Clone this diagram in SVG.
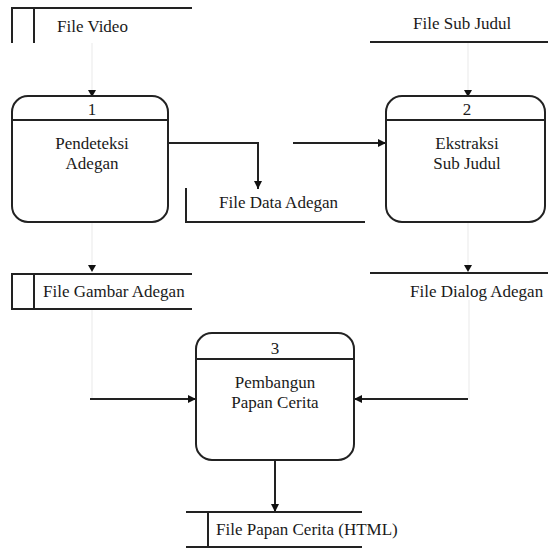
<svg xmlns="http://www.w3.org/2000/svg" width="556" height="550" viewBox="0 0 556 550">
<defs>
<marker id="ah" markerWidth="8" markerHeight="8" refX="8" refY="4" orient="auto" markerUnits="userSpaceOnUse">
<path d="M0,0 L8,4 L0,8 Z" fill="#111"/>
</marker>
</defs>
<style>
text{font-family:"Liberation Serif","Times New Roman","DejaVu Serif",serif;font-size:17px;fill:#1a1a1a}
.c{text-anchor:middle}
.s{stroke:#222;stroke-width:2;fill:none}
.p{stroke:#222;stroke-width:2;fill:#fff}
.cn{stroke:#222;stroke-width:2;fill:none}
.fa{stroke:#f0f0f0;stroke-width:1.5;fill:none}
</style>
<rect width="556" height="550" fill="#fff"/>
<g id="connectors">
<path class="fa" d="M92,43 V90"/>
<path class="fa" d="M468,42 V90"/>
<path class="fa" d="M92,222 V265"/>
<path class="fa" d="M468,222 V265"/>
<path d="M88,90 L96,90 L92,97 Z" fill="#111"/>
<path d="M464,90 L472,90 L468,97 Z" fill="#111"/>
<path d="M88,265 L96,265 L92,272 Z" fill="#111"/>
<path d="M464,265 L472,265 L468,272 Z" fill="#111"/>
<path class="fa" d="M92,309 V399"/>
<path class="fa" d="M469,300 V399"/>
<path class="cn" d="M168,143 H258 V189" marker-end="url(#ah)"/>
<path class="cn" d="M293,143 H386" marker-end="url(#ah)"/>
<path class="cn" d="M90,399 H196" marker-end="url(#ah)"/>
<path class="cn" d="M468,399 H354" marker-end="url(#ah)"/>
<path class="cn" d="M275,460 V512" marker-end="url(#ah)"/>
</g>
<g id="store-file-video">
<path class="s" d="M192,8 H12 V43 M34,8 V43"/>
<text font-family="Liberation Serif, serif" x="57" y="32">File Video</text>
</g>
<g id="store-file-sub-judul">
<path class="s" d="M370,42 H548"/>
<text font-family="Liberation Serif, serif" x="413" y="29">File Sub Judul</text>
</g>
<g id="process-1">
<rect class="p" x="12" y="96" width="156" height="126" rx="16"/>
<path class="s" d="M12,120 H168"/>
<text font-family="Liberation Serif, serif" class="c" x="92" y="115">1</text>
<text font-family="Liberation Serif, serif" class="c" x="92" y="149">Pendeteksi</text>
<text font-family="Liberation Serif, serif" class="c" x="92" y="169">Adegan</text>
</g>
<g id="store-file-data-adegan">
<path class="s" d="M186,188 V222 H365"/>
<text font-family="Liberation Serif, serif" x="219" y="208">File Data Adegan</text>
</g>
<g id="process-2">
<rect class="p" x="386" y="96" width="159" height="126" rx="16"/>
<path class="s" d="M386,120 H545"/>
<text font-family="Liberation Serif, serif" class="c" x="467" y="115">2</text>
<text font-family="Liberation Serif, serif" class="c" x="467" y="149">Ekstraksi</text>
<text font-family="Liberation Serif, serif" class="c" x="467" y="169">Sub Judul</text>
</g>
<g id="store-file-gambar-adegan">
<path class="s" d="M192,274 H12 V309 H192 M34,274 V309"/>
<text font-family="Liberation Serif, serif" x="43" y="297">File Gambar Adegan</text>
</g>
<g id="store-file-dialog-adegan">
<path class="s" d="M370,273 H548"/>
<text font-family="Liberation Serif, serif" x="410" y="297">File Dialog Adegan</text>
</g>
<g id="process-3">
<rect class="p" x="196" y="333" width="158" height="127" rx="16"/>
<path class="s" d="M196,359 H354"/>
<text font-family="Liberation Serif, serif" class="c" x="275" y="354">3</text>
<text font-family="Liberation Serif, serif" class="c" x="275" y="388">Pembangun</text>
<text font-family="Liberation Serif, serif" class="c" x="275" y="408">Papan Cerita</text>
</g>
<g id="store-file-papan-cerita">
<path class="s" d="M186,512 H362 M186,547 H362 M208,512 V547"/>
<text font-family="Liberation Serif, serif" x="216" y="535">File Papan Cerita (HTML)</text>
</g>
</svg>
